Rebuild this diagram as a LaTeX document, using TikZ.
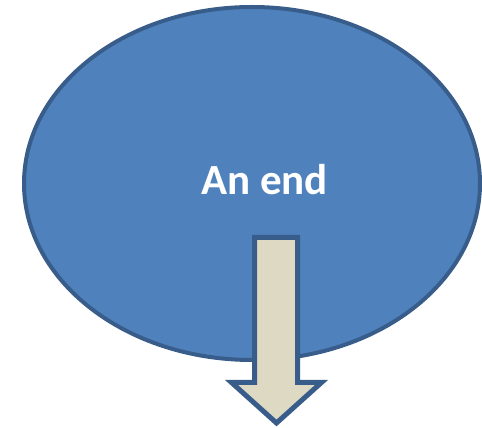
\documentclass[tikz,border=0pt]{standalone}
\usepackage{fontspec}
\setmainfont{Carlito}
\usepackage{xcolor}
\definecolor{azulBlob}{HTML}{4F81BD}
\definecolor{bordeBlob}{HTML}{385D8A}
\definecolor{beigeFlecha}{HTML}{DDD9C3}
\usepackage{tikz}
\usetikzlibrary{shapes.geometric,calc}

\begin{document}
\begin{tikzpicture}[x=1pt,y=1pt,
  blob/.style={ellipse,draw=bordeBlob,fill=azulBlob,line width=4pt,
    minimum width=456pt,minimum height=353pt,inner sep=0pt},
  caption/.style={text=white,font=\fontsize{43}{50}\selectfont\bfseries,
    inner sep=0pt,anchor=base},
  flecha/.style={draw=bordeBlob,fill=beigeFlecha,line width=5pt,miter limit=10}]
  \useasboundingbox (0,0) rectangle (482,428);
  \node[blob] (end) at (252,244.5) {};
  \node[caption] (endtext) at (264.5,233) {An end};
  % block arrow pointing down
  \coordinate (tip) at (276.5,5);
  \draw[flecha] (254.5,190.5) -- (297.5,190.5) -- (297.5,45.5)
    -- (321.5,45.5) -- (tip) -- (231.5,45.5) -- (254.5,45.5) -- cycle;
\end{tikzpicture}
\end{document}
